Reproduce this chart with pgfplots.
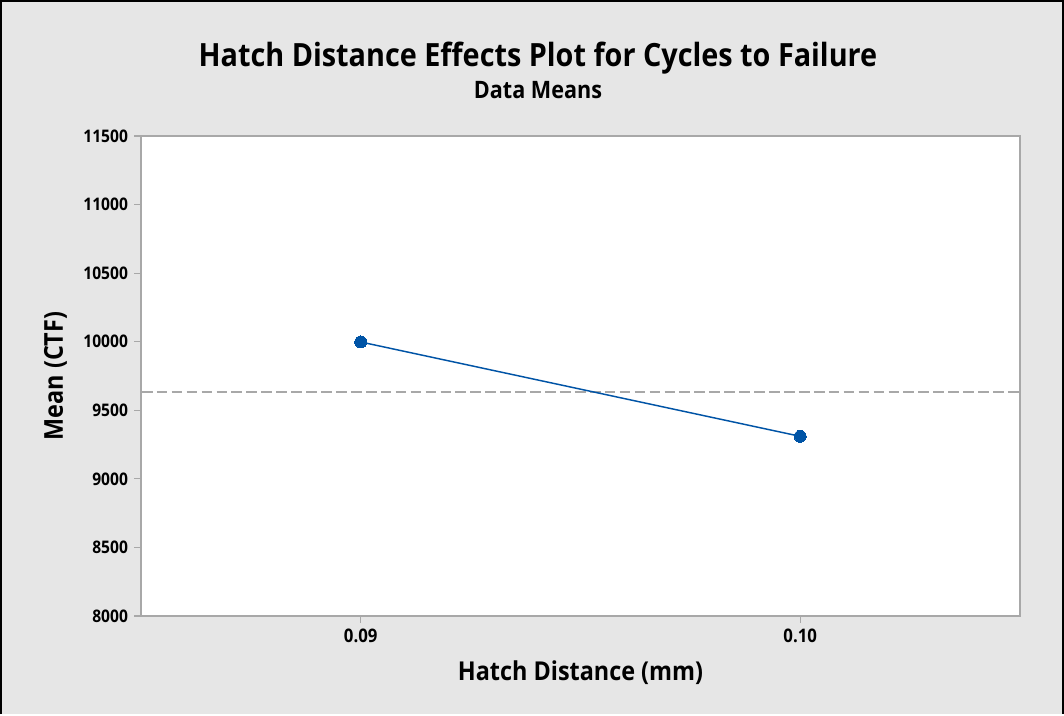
\documentclass[border=0pt]{standalone}
\usepackage{fontspec}
\setmainfont{Open Sans}[BoldFont={* Bold}, BoldFeatures={FakeStretch=0.9}]
\usepackage{pgfplots}
\pgfplotsset{compat=1.18}
\definecolor{bgray}{HTML}{E6E6E6}
\definecolor{mblue}{HTML}{0054A6}
\definecolor{fgray}{HTML}{A8A8A8}

\begin{document}
\begin{tikzpicture}
% whole figure: 1064 x 714 px at 0.75pt per px
\fill[bgray] (0pt,0pt) rectangle (798pt,535.5pt);
\draw[black, line width=1.5pt] (0.75pt,0pt) -- (0.75pt,534.75pt) -- (797.25pt,534.75pt) -- (797.25pt,0pt);

\node[anchor=base, inner sep=0pt, font=\bfseries\fontsize{24}{28}\selectfont] at (403.5pt,485.25pt)
  {Hatch Distance Effects Plot for Cycles to Failure};
\node[anchor=base, inner sep=0pt, font=\bfseries\fontsize{18}{21}\selectfont] at (403.5pt,461.25pt)
  {Data Means};

\begin{axis}[
    at={(105.75pt,73.5pt)}, anchor=south west,
    scale only axis, width=659.25pt, height=360pt,
    xmin=-0.5, xmax=1.5, ymin=8000, ymax=11500,
    xtick={0,1}, xticklabels={0.09, 0.10},
    ytick={8000,8500,...,11500},
    scaled y ticks=false,
    axis background/.style={fill=white},
    axis line style={fgray, line width=0.9pt},
    tick align=outside, tick style={fgray, line width=0.8pt},
    xtick pos=bottom, ytick pos=left,
    major tick length=5.25pt,
    tick label style={font=\bfseries\fontsize{13}{15}\selectfont},
    /pgf/number format/assume math mode=true,
    /pgf/number format/1000 sep={},
    xticklabel style={yshift=-1pt, font=\bfseries\fontsize{14}{16}\selectfont},
    yticklabel style={xshift=-1pt},
    xlabel={Hatch Distance (mm)},
    ylabel={Mean (CTF)},
    label style={font=\bfseries\fontsize{19.5}{22}\selectfont, inner sep=0pt},
    xlabel style={at={(axis description cs:0.5,0)}, anchor=base, yshift=-48pt},
    ylabel style={at={(axis description cs:0,0.5)}, anchor=base, yshift=58.5pt},
    clip=true,
]
\addplot[fgray, line width=1.5pt, dash pattern=on 8pt off 3.2pt, forget plot]
  coordinates {(-0.6,9636) (1.6,9636)};
\addplot[mblue, line width=1.1pt, mark=*, mark size=4.5pt,
  mark options={fill=mblue, draw=mblue, line width=0pt}]
  coordinates {(0,9998) (1,9310)};
\end{axis}
\end{tikzpicture}
\end{document}
